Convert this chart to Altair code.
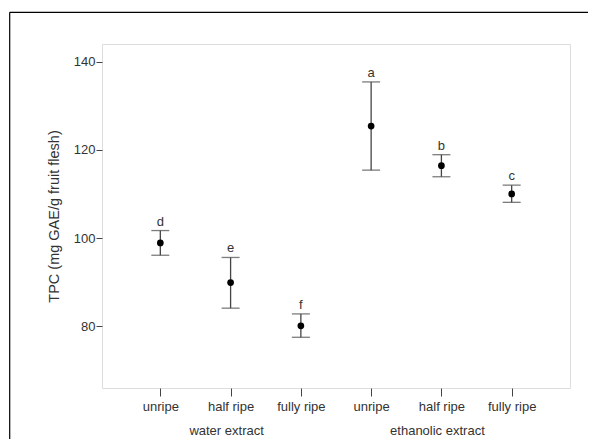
import altair as alt
import pandas as pd

groups = ["water extract", "water extract", "water extract",
          "ethanolic extract", "ethanolic extract", "ethanolic extract"]
ripeness = ["unripe", "half ripe", "fully ripe", "unripe", "half ripe", "fully ripe"]
means = [98.9, 89.9, 80.1, 125.4, 116.4, 110.0]
lowers = [96.1, 84.1, 77.5, 115.4, 113.9, 108.1]
uppers = [101.7, 95.6, 82.8, 135.4, 118.9, 112.0]
letters = ["d", "e", "f", "a", "b", "c"]

group_names = ["water extract", "ethanolic extract"]
group_anchor = ["water extract|half ripe", "ethanolic extract|half ripe"]

keys = [f"{g}|{r}" for g, r in zip(groups, ripeness)]
df = pd.DataFrame({"key": keys, "mean": means, "lower": lowers,
                   "upper": uppers, "letter": letters})
gdf = pd.DataFrame({"key": group_anchor, "name": group_names})

W, H = 468, 344
FONT = "Liberation Sans"
FS = 13
TXT = "#333333"

xenc = alt.X("key:N", sort=keys,
             scale=alt.Scale(type="point", domain=keys, padding=0.83),
             axis=alt.Axis(title=None, labelExpr="split(datum.label, '|')[1]",
                           labelAngle=0, domain=False, ticks=True, tickSize=8,
                           tickColor="#444444", labelFont=FONT, labelFontSize=FS,
                           labelColor=TXT, labelPadding=4))
yscale = alt.Scale(domain=[66, 144], nice=False, zero=False)
yaxis = alt.Axis(title="TPC (mg GAE/g fruit flesh)", values=[80, 100, 120, 140],
                 grid=False, domain=False, tickSize=6, tickColor="#444444",
                 labelFont=FONT, labelFontSize=FS, labelColor=TXT, labelPadding=1,
                 titleFont=FONT, titleFontSize=14.5,
                 titleFontWeight="normal", titleColor=TXT, titlePadding=12)

base = alt.Chart(df)

rules = base.mark_rule(color="#444444", strokeWidth=1.3).encode(
    x=xenc, y=alt.Y("lower:Q", scale=yscale, axis=yaxis), y2="upper:Q")
caps_hi = base.mark_tick(color="#444444", size=18, thickness=1.3).encode(
    x=alt.X("key:N", sort=keys), y=alt.Y("upper:Q"))
caps_lo = base.mark_tick(color="#444444", size=18, thickness=1.3).encode(
    x=alt.X("key:N", sort=keys), y=alt.Y("lower:Q"))
pts = base.mark_point(filled=True, color="black", size=45, opacity=1).encode(
    x=alt.X("key:N", sort=keys), y=alt.Y("mean:Q"))
lbl = base.mark_text(font=FONT, fontSize=FS, color=TXT, baseline="alphabetic",
                     dy=-5).encode(
    x=alt.X("key:N", sort=keys), y=alt.Y("upper:Q"), text="letter:N")

glbl = alt.Chart(gdf).mark_text(font=FONT, fontSize=FS, color=TXT,
                                baseline="middle", dx=-4).encode(
    x=alt.X("key:N", sort=keys), y=alt.value(H + 43), text="name:N")

one = alt.Data(values=[{"a": 1}])
frame_top = alt.Chart(one).mark_rule(color="black", strokeWidth=1.2).encode(
    x=alt.value(-92.3), x2=alt.value(W + 200), y=alt.value(-31.7))
frame_left = alt.Chart(one).mark_rule(color="black", strokeWidth=1.2).encode(
    x=alt.value(-92.3), y=alt.value(-31.7), y2=alt.value(H + 200))

chart = alt.layer(rules, caps_hi, caps_lo, pts, lbl, glbl, frame_top, frame_left).properties(
    width=W, height=H,
    autosize=alt.AutoSizeParams(type="none"),
    padding={"left": 94, "top": 36, "right": 18, "bottom": 51},
).configure_view(stroke="#666666", strokeWidth=1.6).configure(background="white")

chart.save("out.html", embed_options={"renderer": "svg", "actions": False})
